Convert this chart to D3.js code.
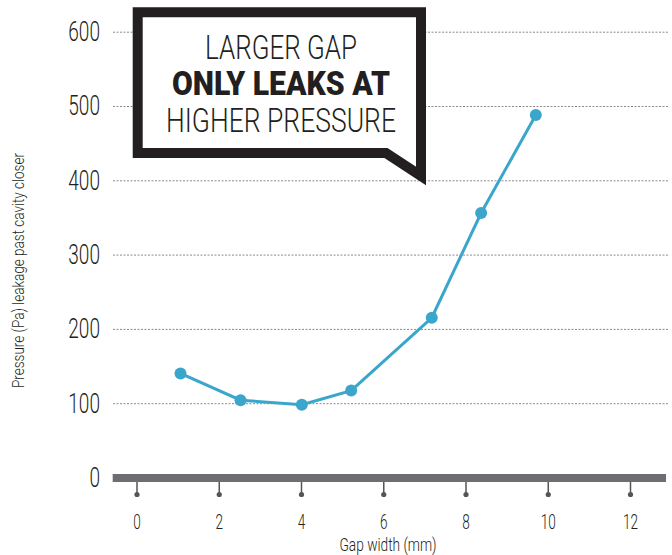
<!DOCTYPE html>
<html><head><meta charset="utf-8">
<script src="https://cdn.jsdelivr.net/npm/d3@7/dist/d3.min.js"></script>
<style>
html,body{margin:0;padding:0;background:#fff;}
svg{display:block;}
text{font-family:Roboto,"Liberation Sans",sans-serif;fill:#231f20;}
</style></head>
<body>
<svg id="chart" width="672" height="555"></svg>
<script>
const gapWidth = [1.07, 2.53, 4.02, 5.22, 7.18, 8.38, 9.71];
const pressure = [140, 104, 98, 117, 215, 356, 488];
const xTicks = [0, 2, 4, 6, 8, 10, 12];
const yTicks = [0, 100, 200, 300, 400, 500, 600];
const calloutLines = ["LARGER GAP", "ONLY LEAKS AT", "HIGHER PRESSURE"];
const xTitle = "Gap width (mm)";
const yTitle = "Pressure (Pa) leakage past cavity closer";

const svg = d3.select("#chart");
const x = d3.scaleLinear().domain([0, 12]).range([136.5, 630]);
const y = d3.scaleLinear().domain([0, 600]).range([477.5, 31.7]);
const SX = 0.68;

// Y gridlines + labels
const gy = svg.append("g").attr("transform", "translate(113,0)")
  .call(d3.axisLeft(y).tickValues(yTicks).tickSize(-555).tickPadding(13).tickFormat(d3.format("d")));
gy.select(".domain").remove();
gy.selectAll(".tick line").attr("stroke", "#8a8a8a").attr("stroke-width", 1).attr("stroke-dasharray", "2,1.5")
  .filter(d => d === 0).remove();
gy.selectAll(".tick text")
  .attr("x", null)
  .attr("transform", "translate(-13,0) scale(" + SX + ",1)")
  .attr("font-size", 28).attr("font-weight", 300).attr("fill", "#231f20");

// X axis
const gx = svg.append("g").attr("transform", "translate(0,482)")
  .call(d3.axisBottom(x).tickValues(xTicks).tickSize(12).tickPadding(21).tickFormat(d3.format("d")));
gx.select(".domain").remove();
gx.selectAll(".tick line").attr("stroke", "#555").attr("stroke-width", 1.5);
gx.selectAll(".tick").append("circle").attr("cy", 12.5).attr("r", 2.6).attr("fill", "#555");
gx.selectAll(".tick text")
  .attr("transform", "scale(" + SX + ",1)")
  .attr("font-size", 20).attr("font-weight", 300).attr("fill", "#231f20");

// thick baseline bar
svg.append("rect").attr("x", 112.7).attr("y", 474).attr("width", 666 - 112.7).attr("height", 8).attr("fill", "#6d6e71");

// axis titles
svg.append("text").attr("x", 388).attr("y", 550.5).attr("text-anchor", "middle")
  .attr("font-size", 18).attr("font-weight", 300)
  .attr("textLength", 97).attr("lengthAdjust", "spacingAndGlyphs").text(xTitle);
svg.append("text").attr("transform", "translate(23.5,270.5) rotate(-90)").attr("text-anchor", "middle")
  .attr("font-size", 17).attr("font-weight", 300)
  .attr("textLength", 235).attr("lengthAdjust", "spacingAndGlyphs").text(yTitle);

// callout box
svg.append("path")
  .attr("d", "M137.7,12.3 L421,12.3 L421,176 L386,153 L137.7,153 Z")
  .attr("fill", "#fff").attr("stroke", "#231f20").attr("stroke-width", 10).attr("stroke-linejoin", "miter")
  .attr("stroke-miterlimit", 10);
const callW = [152, 218, 230];
const callB = [59.3, 95, 131.7];
calloutLines.forEach((t, i) => {
  svg.append("text").attr("x", 281).attr("y", callB[i]).attr("text-anchor", "middle")
    .attr("font-size", 34).attr("font-weight", i === 1 ? 900 : 300)
    .attr("textLength", callW[i]).attr("lengthAdjust", "spacingAndGlyphs").text(t);
});

// line + points
const pts = gapWidth.map((g, i) => [g, pressure[i]]);
svg.append("path").datum(pts)
  .attr("d", d3.line().x(d => x(d[0])).y(d => y(d[1])))
  .attr("fill", "none").attr("stroke", "#3aa6cc").attr("stroke-width", 3);
svg.append("g").selectAll("circle").data(pts).join("circle")
  .attr("cx", d => x(d[0])).attr("cy", d => y(d[1])).attr("r", 6).attr("fill", "#3aa6cc");
</script>
</body></html>
